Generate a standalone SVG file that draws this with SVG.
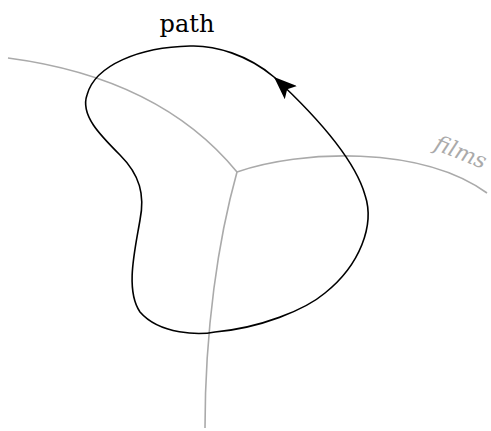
<svg xmlns="http://www.w3.org/2000/svg" width="491" height="431" viewBox="0 0 491 431">
<style>
.film{fill:none;stroke:#aaaaaa;stroke-width:1.6}
.path{fill:none;stroke:#000;stroke-width:1.6}
text{font-family:"DejaVu Serif",serif}
</style>
<defs>
<marker id="arr" markerWidth="24" markerHeight="18" refX="23" refY="9" orient="auto" markerUnits="userSpaceOnUse">
<path d="M0,0 L23,9 L0,18 L5,9 Z" fill="#000"/>
</marker>
</defs>
<rect width="491" height="431" fill="#fff"/>
<g id="films">
<path class="film" d="M8,58 Q160,78 237,172"/>
<path class="film" d="M237,172 C300,150 420,145 487,193"/>
<path class="film" d="M237,172 C218,240 205,330 205,428"/>
<text x="458" y="159" font-size="22" font-style="italic" fill="#aaaaaa" text-anchor="middle" transform="rotate(22 458 159)">films</text>
</g>
<g id="path">
<path class="path" marker-end="url(#arr)" d="M274,77 C248,55 215,45 190,46 C140,47 95,65 87,95 C80,115 100,135 120,155 C140,175 145,195 140,220 C135,250 125,290 140,312 C160,335 200,335 215,332 C260,328 305,310 325,293 C360,265 375,225 365,195 C355,160 315,115 274,77"/>
<text x="187" y="32" font-size="24" text-anchor="middle">path</text>
</g>
</svg>
